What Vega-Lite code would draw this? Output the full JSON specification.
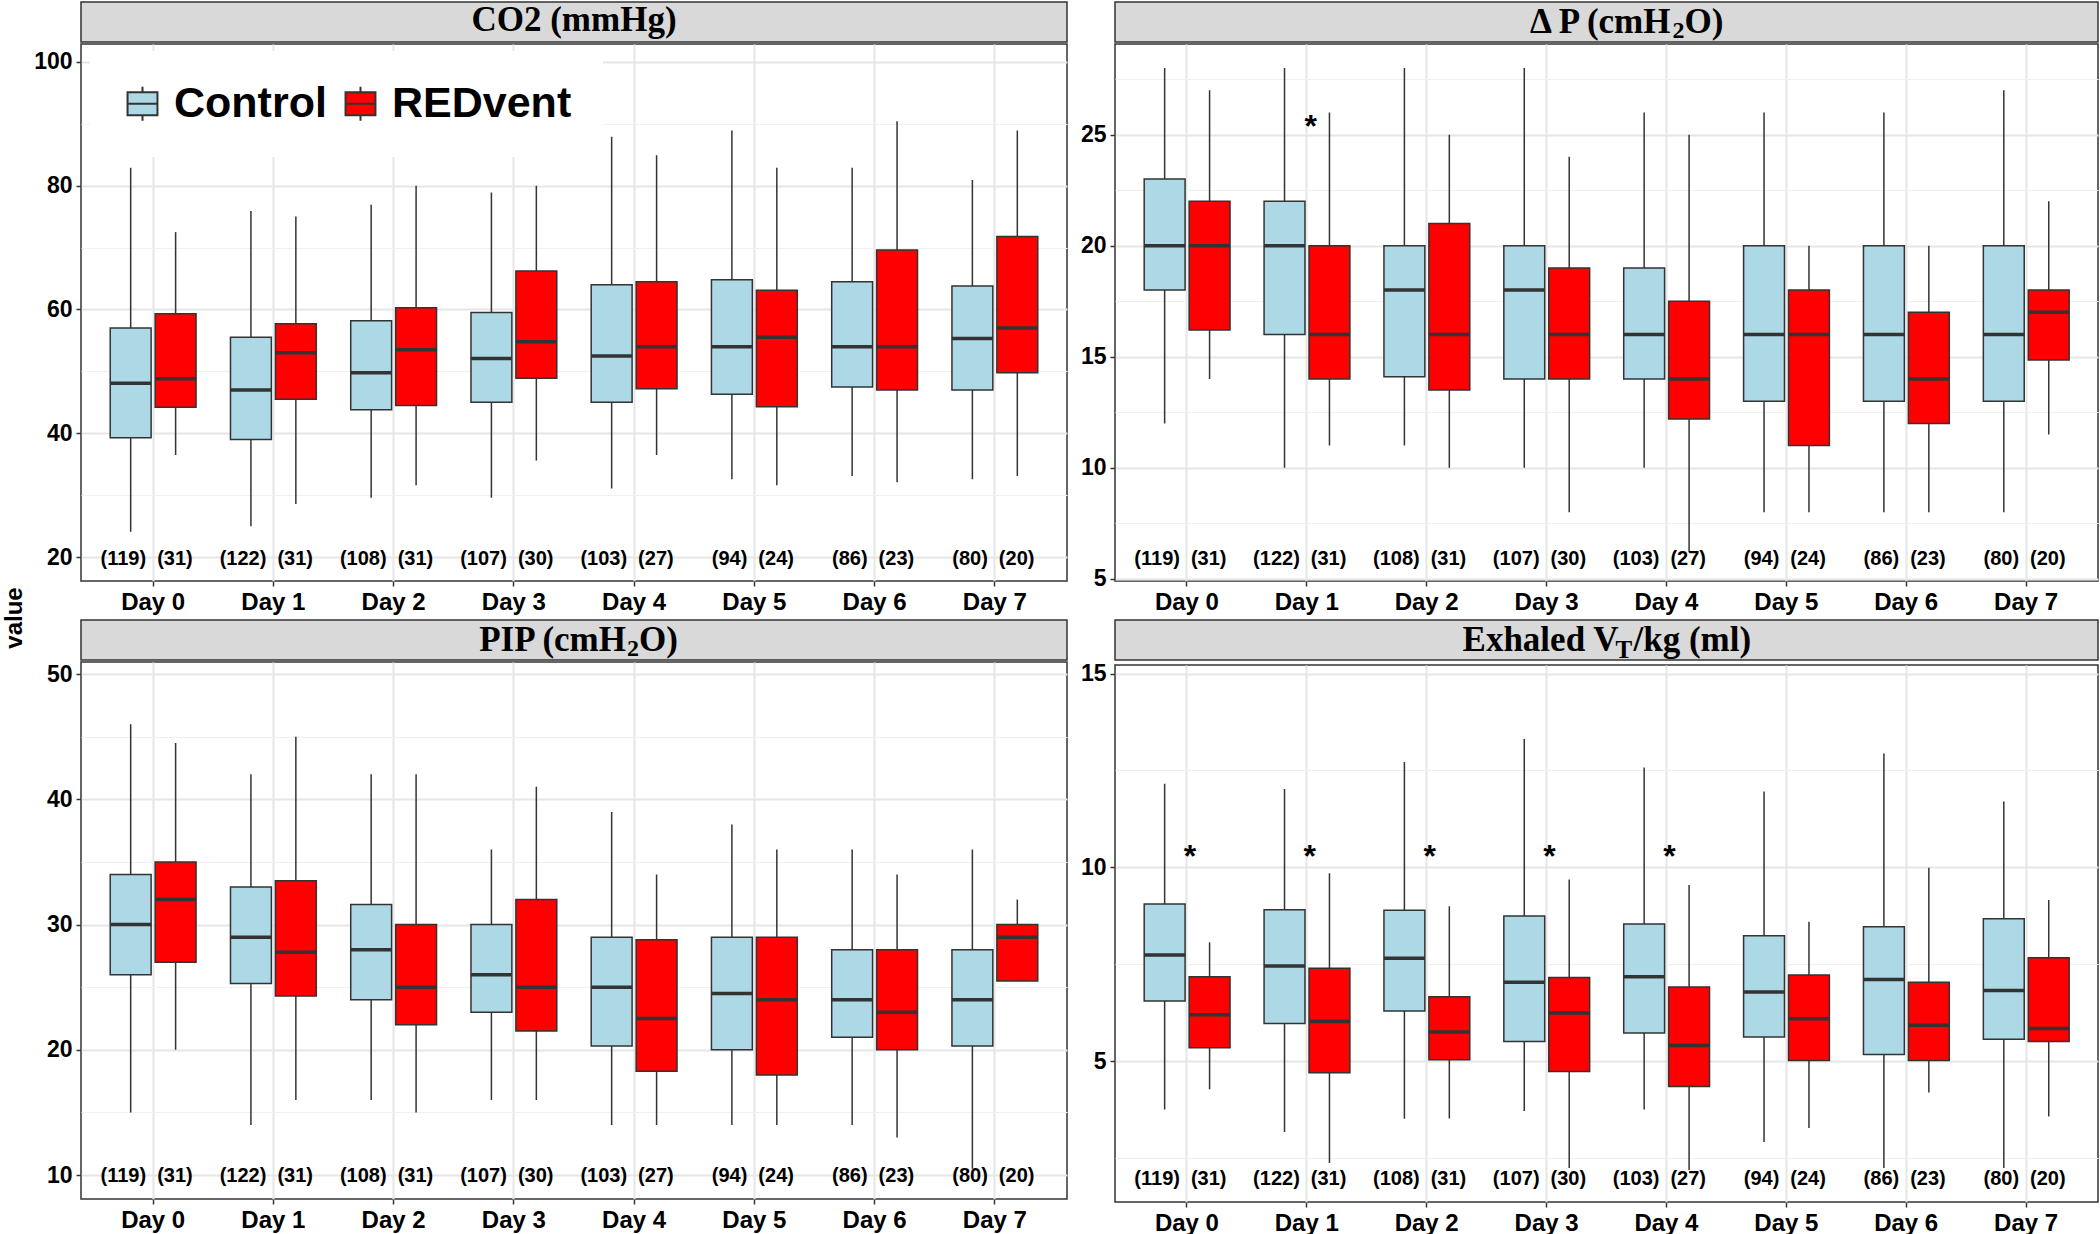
{
  "$schema": "https://vega.github.io/schema/vega-lite/v6.json",
  "padding": {"left": 0, "top": 1, "right": 0, "bottom": 0},
  "background": "white",
  "datasets": {
    "boxes": [
      {"p":"co2","day":"Day 0","g":"Control","lo":24.1,"q1":39.3,"med":48.1,"q3":57.0,"hi":82.9},
      {"p":"co2","day":"Day 0","g":"REDvent","lo":36.5,"q1":44.2,"med":48.8,"q3":59.3,"hi":72.5},
      {"p":"co2","day":"Day 1","g":"Control","lo":25.0,"q1":39.0,"med":47.0,"q3":55.5,"hi":75.9},
      {"p":"co2","day":"Day 1","g":"REDvent","lo":28.6,"q1":45.5,"med":53.0,"q3":57.7,"hi":75.0},
      {"p":"co2","day":"Day 2","g":"Control","lo":29.6,"q1":43.8,"med":49.8,"q3":58.2,"hi":76.9},
      {"p":"co2","day":"Day 2","g":"REDvent","lo":31.6,"q1":44.5,"med":53.5,"q3":60.3,"hi":80.0},
      {"p":"co2","day":"Day 3","g":"Control","lo":29.6,"q1":45.0,"med":52.1,"q3":59.5,"hi":78.9},
      {"p":"co2","day":"Day 3","g":"REDvent","lo":35.6,"q1":48.9,"med":54.8,"q3":66.2,"hi":80.0},
      {"p":"co2","day":"Day 4","g":"Control","lo":31.1,"q1":45.0,"med":52.5,"q3":64.0,"hi":87.9},
      {"p":"co2","day":"Day 4","g":"REDvent","lo":36.5,"q1":47.2,"med":54.0,"q3":64.5,"hi":84.9},
      {"p":"co2","day":"Day 5","g":"Control","lo":32.6,"q1":46.3,"med":54.0,"q3":64.8,"hi":88.9},
      {"p":"co2","day":"Day 5","g":"REDvent","lo":31.6,"q1":44.3,"med":55.5,"q3":63.1,"hi":82.9},
      {"p":"co2","day":"Day 6","g":"Control","lo":33.1,"q1":47.5,"med":54.0,"q3":64.5,"hi":82.9},
      {"p":"co2","day":"Day 6","g":"REDvent","lo":32.1,"q1":47.0,"med":54.0,"q3":69.6,"hi":90.4},
      {"p":"co2","day":"Day 7","g":"Control","lo":32.6,"q1":47.0,"med":55.3,"q3":63.8,"hi":80.9},
      {"p":"co2","day":"Day 7","g":"REDvent","lo":33.1,"q1":49.8,"med":57.0,"q3":71.8,"hi":88.9},
      {"p":"dp","day":"Day 0","g":"Control","lo":12,"q1":18,"med":20,"q3":23,"hi":28},
      {"p":"dp","day":"Day 0","g":"REDvent","lo":14,"q1":16.2,"med":20,"q3":22,"hi":27},
      {"p":"dp","day":"Day 1","g":"Control","lo":10,"q1":16,"med":20,"q3":22,"hi":28},
      {"p":"dp","day":"Day 1","g":"REDvent","lo":11,"q1":14,"med":16,"q3":20,"hi":26},
      {"p":"dp","day":"Day 2","g":"Control","lo":11,"q1":14.1,"med":18,"q3":20,"hi":28},
      {"p":"dp","day":"Day 2","g":"REDvent","lo":10,"q1":13.5,"med":16,"q3":21,"hi":25},
      {"p":"dp","day":"Day 3","g":"Control","lo":10,"q1":14,"med":18,"q3":20,"hi":28},
      {"p":"dp","day":"Day 3","g":"REDvent","lo":8,"q1":14,"med":16,"q3":19,"hi":24},
      {"p":"dp","day":"Day 4","g":"Control","lo":10,"q1":14,"med":16,"q3":19,"hi":26},
      {"p":"dp","day":"Day 4","g":"REDvent","lo":6.2,"q1":12.2,"med":14,"q3":17.5,"hi":25},
      {"p":"dp","day":"Day 5","g":"Control","lo":8,"q1":13,"med":16,"q3":20,"hi":26},
      {"p":"dp","day":"Day 5","g":"REDvent","lo":8,"q1":11,"med":16,"q3":18,"hi":20},
      {"p":"dp","day":"Day 6","g":"Control","lo":8,"q1":13,"med":16,"q3":20,"hi":26},
      {"p":"dp","day":"Day 6","g":"REDvent","lo":8,"q1":12,"med":14,"q3":17,"hi":20},
      {"p":"dp","day":"Day 7","g":"Control","lo":8,"q1":13,"med":16,"q3":20,"hi":27},
      {"p":"dp","day":"Day 7","g":"REDvent","lo":11.5,"q1":14.85,"med":17,"q3":18,"hi":22},
      {"p":"pip","day":"Day 0","g":"Control","lo":15,"q1":26,"med":30,"q3":34,"hi":46},
      {"p":"pip","day":"Day 0","g":"REDvent","lo":20,"q1":27,"med":32,"q3":35,"hi":44.5},
      {"p":"pip","day":"Day 1","g":"Control","lo":14,"q1":25.3,"med":29,"q3":33,"hi":42},
      {"p":"pip","day":"Day 1","g":"REDvent","lo":16,"q1":24.3,"med":27.8,"q3":33.5,"hi":45},
      {"p":"pip","day":"Day 2","g":"Control","lo":16,"q1":24,"med":28,"q3":31.6,"hi":42},
      {"p":"pip","day":"Day 2","g":"REDvent","lo":15,"q1":22,"med":25,"q3":30,"hi":42},
      {"p":"pip","day":"Day 3","g":"Control","lo":16,"q1":23,"med":26,"q3":30,"hi":36},
      {"p":"pip","day":"Day 3","g":"REDvent","lo":16,"q1":21.5,"med":25,"q3":32,"hi":41},
      {"p":"pip","day":"Day 4","g":"Control","lo":14,"q1":20.3,"med":25,"q3":29,"hi":39},
      {"p":"pip","day":"Day 4","g":"REDvent","lo":14,"q1":18.3,"med":22.5,"q3":28.8,"hi":34},
      {"p":"pip","day":"Day 5","g":"Control","lo":14,"q1":20,"med":24.5,"q3":29,"hi":38},
      {"p":"pip","day":"Day 5","g":"REDvent","lo":14,"q1":18,"med":24,"q3":29,"hi":36},
      {"p":"pip","day":"Day 6","g":"Control","lo":14,"q1":21,"med":24,"q3":28,"hi":36},
      {"p":"pip","day":"Day 6","g":"REDvent","lo":13,"q1":20,"med":23,"q3":28,"hi":34},
      {"p":"pip","day":"Day 7","g":"Control","lo":10.5,"q1":20.3,"med":24,"q3":28,"hi":36},
      {"p":"pip","day":"Day 7","g":"REDvent","lo":25.5,"q1":25.5,"med":29,"q3":30,"hi":32},
      {"p":"vt","day":"Day 0","g":"Control","lo":3.76,"q1":6.56,"med":7.74,"q3":9.06,"hi":12.16},
      {"p":"vt","day":"Day 0","g":"REDvent","lo":4.28,"q1":5.35,"med":6.20,"q3":7.18,"hi":8.07},
      {"p":"vt","day":"Day 1","g":"Control","lo":3.18,"q1":5.98,"med":7.46,"q3":8.91,"hi":12.02},
      {"p":"vt","day":"Day 1","g":"REDvent","lo":2.38,"q1":4.71,"med":6.03,"q3":7.40,"hi":9.85},
      {"p":"vt","day":"Day 2","g":"Control","lo":3.52,"q1":6.30,"med":7.66,"q3":8.90,"hi":12.72},
      {"p":"vt","day":"Day 2","g":"REDvent","lo":3.53,"q1":5.04,"med":5.76,"q3":6.67,"hi":9.0},
      {"p":"vt","day":"Day 3","g":"Control","lo":3.72,"q1":5.51,"med":7.04,"q3":8.75,"hi":13.31},
      {"p":"vt","day":"Day 3","g":"REDvent","lo":2.25,"q1":4.74,"med":6.25,"q3":7.16,"hi":9.69},
      {"p":"vt","day":"Day 4","g":"Control","lo":3.76,"q1":5.73,"med":7.18,"q3":8.54,"hi":12.58},
      {"p":"vt","day":"Day 4","g":"REDvent","lo":2.2,"q1":4.35,"med":5.41,"q3":6.92,"hi":9.55},
      {"p":"vt","day":"Day 5","g":"Control","lo":2.92,"q1":5.63,"med":6.79,"q3":8.24,"hi":11.96},
      {"p":"vt","day":"Day 5","g":"REDvent","lo":3.28,"q1":5.02,"med":6.10,"q3":7.23,"hi":8.60},
      {"p":"vt","day":"Day 6","g":"Control","lo":2.25,"q1":5.18,"med":7.11,"q3":8.47,"hi":12.94},
      {"p":"vt","day":"Day 6","g":"REDvent","lo":4.20,"q1":5.02,"med":5.93,"q3":7.04,"hi":9.99},
      {"p":"vt","day":"Day 7","g":"Control","lo":2.25,"q1":5.57,"med":6.83,"q3":8.68,"hi":11.70},
      {"p":"vt","day":"Day 7","g":"REDvent","lo":3.58,"q1":5.51,"med":5.85,"q3":7.67,"hi":9.16}
    ],
    "counts": [
      {"day":"Day 0","g":"Control","n":"(119)"},{"day":"Day 0","g":"REDvent","n":"(31)"},
      {"day":"Day 1","g":"Control","n":"(122)"},{"day":"Day 1","g":"REDvent","n":"(31)"},
      {"day":"Day 2","g":"Control","n":"(108)"},{"day":"Day 2","g":"REDvent","n":"(31)"},
      {"day":"Day 3","g":"Control","n":"(107)"},{"day":"Day 3","g":"REDvent","n":"(30)"},
      {"day":"Day 4","g":"Control","n":"(103)"},{"day":"Day 4","g":"REDvent","n":"(27)"},
      {"day":"Day 5","g":"Control","n":"(94)"},{"day":"Day 5","g":"REDvent","n":"(24)"},
      {"day":"Day 6","g":"Control","n":"(86)"},{"day":"Day 6","g":"REDvent","n":"(23)"},
      {"day":"Day 7","g":"Control","n":"(80)"},{"day":"Day 7","g":"REDvent","n":"(20)"}
    ],
    "stars": [
      {"p":"dp","day":"Day 1","y":25.27},
      {"p":"vt","day":"Day 0","y":10.15},
      {"p":"vt","day":"Day 1","y":10.15},
      {"p":"vt","day":"Day 2","y":10.15},
      {"p":"vt","day":"Day 3","y":10.15},
      {"p":"vt","day":"Day 4","y":10.15}
    ]
  },
  "resolve": {"scale": {"color": "independent"}},
  "spacing": 3,
  "hconcat": [
    {
      "width": 29, "height": 1232,
      "view": {"stroke": null},
      "data": {"values": [{"t": "value"}]},
      "mark": {"type": "text", "angle": 270, "font": "Liberation Sans", "fontWeight": "bold", "fontSize": 24, "color": "#000000"},
      "encoding": {"text": {"field": "t"}}
    },
    {
      "columns": 2,
      "spacing": {"row": 4, "column": 11},
      "resolve": {"scale": {"color": "independent"}},
      "concat": [
        {
          "spacing": 0,
          "resolve": {"scale": {"color": "independent"}},
          "vconcat": [
            {
              "width": 986, "height": 40,
              "view": {"fill": "#D9D9D9", "stroke": "#333333", "strokeWidth": 1.5},
              "data": {"values": [{"t": "CO2 (mmHg)"}]},
              "mark": {"type": "text", "clip": true, "font": "Liberation Serif", "fontWeight": "bold", "fontSize": 35, "dy": -2, "color": "#000000"},
              "encoding": {"text": {"field": "t"}}
            },
            {
              "width": 986, "height": 537,
              "layer": [
                {
                  "data": {"name": "boxes"}, "transform": [{"filter": "datum.p === 'co2'"}],
                  "mark": {"type": "rule", "color": "#333333", "strokeWidth": 1.5},
                  "encoding": {
                    "x": {"field": "day", "type": "nominal", "title": null, "scale": {"paddingInner": 0, "paddingOuter": 0.1}, "axis": {"bandPosition": 0.5}},
                    "xOffset": {"field": "g", "scale": {"paddingInner": 0.09, "paddingOuter": 0.383}},
                    "y": {"field": "lo", "type": "quantitative", "title": null, "scale": {"domain": [16.15, 102.88], "nice": false, "zero": false},
                      "axis": {"values": [20,30,40,50,60,70,80,90,100], "labelExpr": "datum.value % 20 === 0 ? datum.label : ''",
                        "tickOpacity": {"condition": {"test": "datum.value % 20 === 0", "value": 1}, "value": 0},
                        "gridWidth": {"condition": {"test": "datum.value % 20 === 0", "value": 2}, "value": 1.2},
                        "gridColor": {"condition": {"test": "datum.value % 20 === 0", "value": "#E6E6E6"}, "value": "#F0F0F0"}}},
                    "y2": {"field": "hi"}
                  }
                },
                {
                  "data": {"name": "boxes"}, "transform": [{"filter": "datum.p === 'co2'"}],
                  "mark": {"type": "bar", "stroke": "#333333", "strokeWidth": 1.5},
                  "encoding": {
                    "x": {"field": "day", "type": "nominal"},
                    "xOffset": {"field": "g"},
                    "y": {"field": "q1", "type": "quantitative"},
                    "y2": {"field": "q3"},
                    "fill": {"field": "g", "type": "nominal", "scale": {"domain": ["Control", "REDvent"], "range": ["#ADD8E6", "#FF0000"]},
                      "legend": {"title": null, "orient": "none", "legendX": 90, "legendY": 49, "direction": "horizontal", "padding": 31, "fillColor": "white",
                        "labelFont": "Liberation Sans", "labelFontSize": 43, "labelFontWeight": "bold", "labelColor": "#000000", "labelOffset": 10, "labelLimit": 0, "columnPadding": 12,
                        "symbolType": "M-0.88,-0.67H0.88V0.67H-0.88Z M0,-0.67V-1 M0,0.67V1 M-0.88,0H0.88",
                        "symbolSize": 1156, "symbolStrokeColor": "#333333", "symbolStrokeWidth": 2, "symbolOpacity": 1}}
                  }
                },
                {
                  "data": {"name": "boxes"}, "transform": [{"filter": "datum.p === 'co2'"}],
                  "mark": {"type": "tick", "orient": "horizontal", "color": "#333333", "thickness": 3.5, "size": 41, "opacity": 1},
                  "encoding": {"x": {"field": "day", "type": "nominal"}, "xOffset": {"field": "g"}, "y": {"field": "med", "type": "quantitative"}}
                },
                {
                  "data": {"name": "counts"}, "transform": [{"filter": "datum.g === 'Control'"}],
                  "mark": {"type": "text", "align": "right", "dx": -7, "font": "Liberation Sans", "fontWeight": "bold", "fontSize": 20, "color": "#000000"},
                  "encoding": {"x": {"field": "day", "type": "nominal"}, "y": {"datum": 19.7, "type": "quantitative"}, "text": {"field": "n"}}
                },
                {
                  "data": {"name": "counts"}, "transform": [{"filter": "datum.g === 'REDvent'"}],
                  "mark": {"type": "text", "align": "left", "dx": 4, "font": "Liberation Sans", "fontWeight": "bold", "fontSize": 20, "color": "#000000"},
                  "encoding": {"x": {"field": "day", "type": "nominal"}, "y": {"datum": 19.7, "type": "quantitative"}, "text": {"field": "n"}}
                }
              ]
            }
          ]
        },
        {
          "spacing": 0,
          "resolve": {"scale": {"color": "independent"}},
          "vconcat": [
            {
              "width": 983, "height": 40,
              "view": {"fill": "#D9D9D9", "stroke": "#333333", "strokeWidth": 1.5},
              "data": {"values": [{"a": "Δ P (cmH", "b": "2", "c": "O)"}]},
              "layer": [
                {"mark": {"type": "text", "clip": true, "align": "right", "dx": 64, "font": "Liberation Serif", "fontWeight": "bold", "fontSize": 35, "color": "#000000"}, "encoding": {"text": {"field": "a"}}},
                {"mark": {"type": "text", "clip": true, "align": "left", "dx": 66, "dy": 9, "font": "Liberation Serif", "fontWeight": "bold", "fontSize": 24, "color": "#000000"}, "encoding": {"text": {"field": "b"}}},
                {"mark": {"type": "text", "clip": true, "align": "left", "dx": 78, "font": "Liberation Serif", "fontWeight": "bold", "fontSize": 35, "color": "#000000"}, "encoding": {"text": {"field": "c"}}}
              ]
            },
            {
              "width": 983, "height": 537,
              "layer": [
                {
                  "data": {"name": "boxes"}, "transform": [{"filter": "datum.p === 'dp'"}],
                  "mark": {"type": "rule", "color": "#333333", "strokeWidth": 1.5},
                  "encoding": {
                    "x": {"field": "day", "type": "nominal", "title": null, "scale": {"paddingInner": 0, "paddingOuter": 0.1}, "axis": {"bandPosition": 0.5}},
                    "xOffset": {"field": "g", "scale": {"paddingInner": 0.09, "paddingOuter": 0.383}},
                    "y": {"field": "lo", "type": "quantitative", "title": null, "scale": {"domain": [4.905, 29.08], "nice": false, "zero": false},
                      "axis": {"values": [5,7.5,10,12.5,15,17.5,20,22.5,25,27.5], "labelExpr": "datum.value % 5 === 0 ? datum.label : ''",
                        "tickOpacity": {"condition": {"test": "datum.value % 5 === 0", "value": 1}, "value": 0},
                        "gridWidth": {"condition": {"test": "datum.value % 5 === 0", "value": 2}, "value": 1.2},
                        "gridColor": {"condition": {"test": "datum.value % 5 === 0", "value": "#E6E6E6"}, "value": "#F0F0F0"}}},
                    "y2": {"field": "hi"}
                  }
                },
                {
                  "data": {"name": "boxes"}, "transform": [{"filter": "datum.p === 'dp'"}],
                  "mark": {"type": "bar", "stroke": "#333333", "strokeWidth": 1.5},
                  "encoding": {
                    "x": {"field": "day", "type": "nominal"}, "xOffset": {"field": "g"},
                    "y": {"field": "q1", "type": "quantitative"}, "y2": {"field": "q3"},
                    "fill": {"field": "g", "type": "nominal", "scale": {"domain": ["Control", "REDvent"], "range": ["#ADD8E6", "#FF0000"]}, "legend": null}
                  }
                },
                {
                  "data": {"name": "boxes"}, "transform": [{"filter": "datum.p === 'dp'"}],
                  "mark": {"type": "tick", "orient": "horizontal", "color": "#333333", "thickness": 3.5, "size": 41, "opacity": 1},
                  "encoding": {"x": {"field": "day", "type": "nominal"}, "xOffset": {"field": "g"}, "y": {"field": "med", "type": "quantitative"}}
                },
                {
                  "data": {"name": "counts"}, "transform": [{"filter": "datum.g === 'Control'"}],
                  "mark": {"type": "text", "align": "right", "dx": -7, "font": "Liberation Sans", "fontWeight": "bold", "fontSize": 20, "color": "#000000"},
                  "encoding": {"x": {"field": "day", "type": "nominal"}, "y": {"datum": 5.9, "type": "quantitative"}, "text": {"field": "n"}}
                },
                {
                  "data": {"name": "counts"}, "transform": [{"filter": "datum.g === 'REDvent'"}],
                  "mark": {"type": "text", "align": "left", "dx": 4, "font": "Liberation Sans", "fontWeight": "bold", "fontSize": 20, "color": "#000000"},
                  "encoding": {"x": {"field": "day", "type": "nominal"}, "y": {"datum": 5.9, "type": "quantitative"}, "text": {"field": "n"}}
                },
                {
                  "data": {"name": "stars"}, "transform": [{"filter": "datum.p === 'dp'"}],
                  "mark": {"type": "text", "dx": 4, "dy": -2, "font": "Liberation Sans", "fontWeight": "bold", "fontSize": 32, "color": "#000000"},
                  "encoding": {"x": {"field": "day", "type": "nominal"}, "y": {"field": "y", "type": "quantitative"}, "text": {"value": "*"}}
                }
              ]
            }
          ]
        },
        {
          "spacing": 0,
          "resolve": {"scale": {"color": "independent"}},
          "vconcat": [
            {
              "width": 986, "height": 40,
              "view": {"fill": "#D9D9D9", "stroke": "#333333", "strokeWidth": 1.5},
              "data": {"values": [{"a": "PIP (cmH", "b": "2", "c": "O)"}]},
              "layer": [
                {"mark": {"type": "text", "clip": true, "align": "right", "dx": 52, "font": "Liberation Serif", "fontWeight": "bold", "fontSize": 35, "color": "#000000"}, "encoding": {"text": {"field": "a"}}},
                {"mark": {"type": "text", "clip": true, "align": "left", "dx": 53, "dy": 9, "font": "Liberation Serif", "fontWeight": "bold", "fontSize": 24, "color": "#000000"}, "encoding": {"text": {"field": "b"}}},
                {"mark": {"type": "text", "clip": true, "align": "left", "dx": 65, "font": "Liberation Serif", "fontWeight": "bold", "fontSize": 35, "color": "#000000"}, "encoding": {"text": {"field": "c"}}}
              ]
            },
            {
              "width": 986, "height": 537,
              "layer": [
                {
                  "data": {"name": "boxes"}, "transform": [{"filter": "datum.p === 'pip'"}],
                  "mark": {"type": "rule", "color": "#333333", "strokeWidth": 1.5},
                  "encoding": {
                    "x": {"field": "day", "type": "nominal", "title": null, "scale": {"paddingInner": 0, "paddingOuter": 0.1}, "axis": {"bandPosition": 0.5}},
                    "xOffset": {"field": "g", "scale": {"paddingInner": 0.09, "paddingOuter": 0.383}},
                    "y": {"field": "lo", "type": "quantitative", "title": null, "scale": {"domain": [8.09, 50.97], "nice": false, "zero": false},
                      "axis": {"values": [10,15,20,25,30,35,40,45,50], "labelExpr": "datum.value % 10 === 0 ? datum.label : ''",
                        "tickOpacity": {"condition": {"test": "datum.value % 10 === 0", "value": 1}, "value": 0},
                        "gridWidth": {"condition": {"test": "datum.value % 10 === 0", "value": 2}, "value": 1.2},
                        "gridColor": {"condition": {"test": "datum.value % 10 === 0", "value": "#E6E6E6"}, "value": "#F0F0F0"}}},
                    "y2": {"field": "hi"}
                  }
                },
                {
                  "data": {"name": "boxes"}, "transform": [{"filter": "datum.p === 'pip'"}],
                  "mark": {"type": "bar", "stroke": "#333333", "strokeWidth": 1.5},
                  "encoding": {
                    "x": {"field": "day", "type": "nominal"}, "xOffset": {"field": "g"},
                    "y": {"field": "q1", "type": "quantitative"}, "y2": {"field": "q3"},
                    "fill": {"field": "g", "type": "nominal", "scale": {"domain": ["Control", "REDvent"], "range": ["#ADD8E6", "#FF0000"]}, "legend": null}
                  }
                },
                {
                  "data": {"name": "boxes"}, "transform": [{"filter": "datum.p === 'pip'"}],
                  "mark": {"type": "tick", "orient": "horizontal", "color": "#333333", "thickness": 3.5, "size": 41, "opacity": 1},
                  "encoding": {"x": {"field": "day", "type": "nominal"}, "xOffset": {"field": "g"}, "y": {"field": "med", "type": "quantitative"}}
                },
                {
                  "data": {"name": "counts"}, "transform": [{"filter": "datum.g === 'Control'"}],
                  "mark": {"type": "text", "align": "right", "dx": -7, "font": "Liberation Sans", "fontWeight": "bold", "fontSize": 20, "color": "#000000"},
                  "encoding": {"x": {"field": "day", "type": "nominal"}, "y": {"datum": 9.94, "type": "quantitative"}, "text": {"field": "n"}}
                },
                {
                  "data": {"name": "counts"}, "transform": [{"filter": "datum.g === 'REDvent'"}],
                  "mark": {"type": "text", "align": "left", "dx": 4, "font": "Liberation Sans", "fontWeight": "bold", "fontSize": 20, "color": "#000000"},
                  "encoding": {"x": {"field": "day", "type": "nominal"}, "y": {"datum": 9.94, "type": "quantitative"}, "text": {"field": "n"}}
                }
              ]
            }
          ]
        },
        {
          "spacing": 0,
          "resolve": {"scale": {"color": "independent"}},
          "vconcat": [
            {
              "width": 983, "height": 40,
              "view": {"fill": "#D9D9D9", "stroke": "#333333", "strokeWidth": 1.5},
              "data": {"values": [{"a": "Exhaled V", "b": "T", "c": "/kg (ml)"}]},
              "layer": [
                {"mark": {"type": "text", "clip": true, "align": "right", "dx": 12, "font": "Liberation Serif", "fontWeight": "bold", "fontSize": 35, "color": "#000000"}, "encoding": {"text": {"field": "a"}}},
                {"mark": {"type": "text", "clip": true, "align": "left", "dx": 9, "dy": 10, "font": "Liberation Serif", "fontWeight": "bold", "fontSize": 25, "color": "#000000"}, "encoding": {"text": {"field": "b"}}},
                {"mark": {"type": "text", "clip": true, "align": "left", "dx": 27, "font": "Liberation Serif", "fontWeight": "bold", "fontSize": 35, "color": "#000000"}, "encoding": {"text": {"field": "c"}}}
              ]
            },
            {
              "width": 983, "height": 537,
              "layer": [
                {
                  "data": {"name": "boxes"}, "transform": [{"filter": "datum.p === 'vt'"}],
                  "mark": {"type": "rule", "color": "#333333", "strokeWidth": 1.5},
                  "encoding": {
                    "x": {"field": "day", "type": "nominal", "title": null, "scale": {"paddingInner": 0, "paddingOuter": 0.1}, "axis": {"bandPosition": 0.5}},
                    "xOffset": {"field": "g", "scale": {"paddingInner": 0.09, "paddingOuter": 0.383}},
                    "y": {"field": "lo", "type": "quantitative", "title": null, "scale": {"domain": [1.375, 15.22], "nice": false, "zero": false},
                      "axis": {"values": [2.5,5,7.5,10,12.5,15], "labelExpr": "datum.value % 5 === 0 ? datum.label : ''",
                        "tickOpacity": {"condition": {"test": "datum.value % 5 === 0", "value": 1}, "value": 0},
                        "gridWidth": {"condition": {"test": "datum.value % 5 === 0", "value": 2}, "value": 1.2},
                        "gridColor": {"condition": {"test": "datum.value % 5 === 0", "value": "#E6E6E6"}, "value": "#F0F0F0"}}},
                    "y2": {"field": "hi"}
                  }
                },
                {
                  "data": {"name": "boxes"}, "transform": [{"filter": "datum.p === 'vt'"}],
                  "mark": {"type": "bar", "stroke": "#333333", "strokeWidth": 1.5},
                  "encoding": {
                    "x": {"field": "day", "type": "nominal"}, "xOffset": {"field": "g"},
                    "y": {"field": "q1", "type": "quantitative"}, "y2": {"field": "q3"},
                    "fill": {"field": "g", "type": "nominal", "scale": {"domain": ["Control", "REDvent"], "range": ["#ADD8E6", "#FF0000"]}, "legend": null}
                  }
                },
                {
                  "data": {"name": "boxes"}, "transform": [{"filter": "datum.p === 'vt'"}],
                  "mark": {"type": "tick", "orient": "horizontal", "color": "#333333", "thickness": 3.5, "size": 41, "opacity": 1},
                  "encoding": {"x": {"field": "day", "type": "nominal"}, "xOffset": {"field": "g"}, "y": {"field": "med", "type": "quantitative"}}
                },
                {
                  "data": {"name": "counts"}, "transform": [{"filter": "datum.g === 'Control'"}],
                  "mark": {"type": "text", "align": "right", "dx": -7, "font": "Liberation Sans", "fontWeight": "bold", "fontSize": 20, "color": "#000000"},
                  "encoding": {"x": {"field": "day", "type": "nominal"}, "y": {"datum": 1.97, "type": "quantitative"}, "text": {"field": "n"}}
                },
                {
                  "data": {"name": "counts"}, "transform": [{"filter": "datum.g === 'REDvent'"}],
                  "mark": {"type": "text", "align": "left", "dx": 4, "font": "Liberation Sans", "fontWeight": "bold", "fontSize": 20, "color": "#000000"},
                  "encoding": {"x": {"field": "day", "type": "nominal"}, "y": {"datum": 1.97, "type": "quantitative"}, "text": {"field": "n"}}
                },
                {
                  "data": {"name": "stars"}, "transform": [{"filter": "datum.p === 'vt'"}],
                  "mark": {"type": "text", "dx": 3, "dy": -5, "font": "Liberation Sans", "fontWeight": "bold", "fontSize": 32, "color": "#000000"},
                  "encoding": {"x": {"field": "day", "type": "nominal"}, "y": {"field": "y", "type": "quantitative"}, "text": {"value": "*"}}
                }
              ]
            }
          ]
        }
      ]
    }
  ],
  "config": {
    "view": {"stroke": "#333333", "strokeWidth": 1.5},
    "axis": {"domain": false, "labelFont": "Liberation Sans", "labelFontWeight": "bold", "labelColor": "#000000", "tickColor": "#333333", "tickWidth": 1.5, "tickSize": 5, "gridColor": "#E6E6E6", "gridWidth": 2, "grid": true},
    "axisX": {"labelFontSize": 24, "labelPadding": 4, "labelAngle": 0},
    "axisY": {"labelFontSize": 23, "labelPadding": 4}
  }
}
